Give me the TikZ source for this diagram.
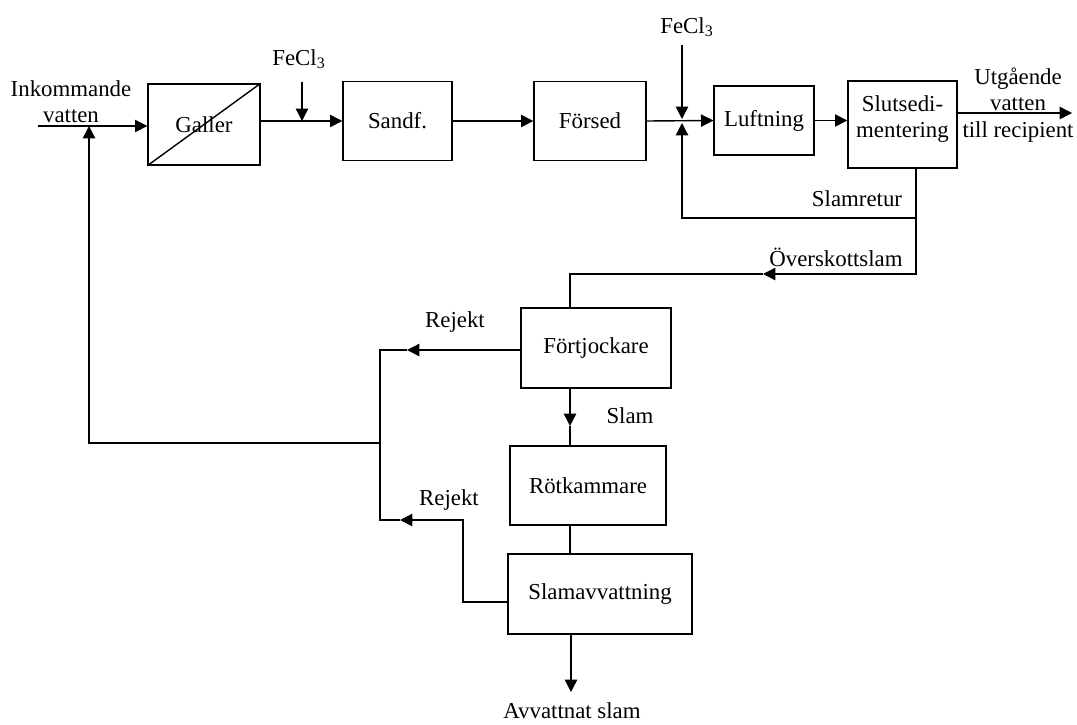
\documentclass[tikz,border=0pt]{standalone}
\usepackage{fontspec}
\setmainfont{Liberation Serif}
\usetikzlibrary{arrows.meta,positioning}

\tikzset{
  blk/.style={draw,line width=0.8pt,inner sep=2pt},
  flow/.style={line width=0.8pt,-{Triangle[length=7pt,width=7pt]}},
  pipe/.style={line width=0.8pt}
}

\begin{document}
\begin{tikzpicture}[x=0.02cm,y=-0.02cm,every node/.style={font=\fontsize{13}{15}\selectfont}]
    \useasboundingbox (0,0) rectangle (1077,724);

    % vattenlinjen
    \node[blk,minimum width=2.24cm,minimum height=1.62cm] (galler) at (204,124.5) {Galler};
    \node[blk,minimum width=2.18cm,minimum height=1.58cm] (sandf) at (397.5,121) {Sandf.};
    \node[blk,minimum width=2.24cm,minimum height=1.58cm] (forsed) at (590,121) {Försed};
    \node[blk,minimum width=2.0cm,minimum height=1.38cm] (luft) at (764,120.5) {Luftning};
    \node[blk,minimum width=2.18cm,minimum height=1.74cm] (slut) at (902.5,124.5) {};
    \node[align=center] (slutt) at (902.5,119) {Slutsedi-\\mentering};
    \draw[pipe] (galler.south west) -- (galler.north east);

    % slamlinjen
    \node[blk,minimum width=3.0cm,minimum height=1.6cm] (fort) at (596,348) {Förtjockare};
    \node[blk,minimum width=3.12cm,minimum height=1.58cm] (rot) at (588,485.5) {Rötkammare};
    \node[blk,minimum width=3.68cm,minimum height=1.6cm] (slamav) at (600,594) {Slamavvattning};

    \coordinate (in0) at (38,126);
    \coordinate (fe1) at (302,82);
    \coordinate (fe2) at (682,45);
    \coordinate (j2) at (682,121);
    \coordinate (ut) at (1072,113);
    \coordinate (sr) at (916,218);
    \coordinate (ov) at (763,274);
    \coordinate (fk) at (570,274);
    \coordinate (sl) at (570,426);
    \coordinate (rj1) at (407,350);
    \coordinate (rv) at (380,350);
    \coordinate (fb) at (380,443);
    \coordinate (fb2) at (89,443);
    \coordinate (rj2) at (400,520);
    \coordinate (rv2) at (380,520);
    \coordinate (sv) at (463,602);
    \coordinate (av) at (571,692);

    \node[align=center] (ink) at (71,102) {Inkommande\\vatten};
    \node (fecl1) at (299,59) {FeCl\textsubscript{3}};
    \node (fecl2) at (687,27) {FeCl\textsubscript{3}};
    \node[align=center] (utg) at (1018,105) {Utgående\\vatten\\till recipient};
    \node (slamret) at (857,199) {Slamretur};
    \node (overs) at (836,257) {Överskottslam};
    \node (rejekt1) at (455,322) {Rejekt};
    \node (slam) at (630,416) {Slam};
    \node (rejekt2) at (449,500) {Rejekt};
    \node (avv) at (572,711) {Avvattnat slam};

    \draw[flow] (in0) -- (galler.west |- in0);
    \draw[flow] (galler.east |- sandf) -- (sandf.west);
    \draw[flow] (fe1) -- (fe1 |- sandf);
    \draw[flow] (sandf.east) -- (forsed.west);
    \draw[flow] (forsed.east) -- (luft.west);
    \draw[flow] (fe2) -- ([yshift=0.04cm]j2);
    \draw[flow] (luft.east) -- (slut.west |- luft);
    \draw[flow] (slut.east |- ut) -- (ut);

    % returslam och överskottsslam
    \draw[flow] (slut.south -| sr) -- (sr) -- (j2 |- sr) -- ([yshift=-0.04cm]j2);
    \draw[flow] (sr) -- (sr |- ov) -- (ov);
    \draw[pipe] (ov) -- (fk) -- (fk |- fort.north);

    \draw[flow] (fort.south -| sl) -- (sl);
    \draw[pipe] (sl) -- (sl |- rot.north);
    \draw[pipe] (rot.south -| sl) -- (slamav.north -| sl);
    \draw[flow] (slamav.south -| av) -- (av);

    % rejektvatten tillbaka till inloppet
    \draw[flow] (fort.west |- rj1) -- (rj1);
    \draw[pipe] (rj1) -- (rv) -- (rv2) -- (rj2);
    \draw[flow] (slamav.west |- sv) -- (sv) -- (sv |- rj2) -- (rj2);
    \draw[flow] (fb) -- (fb2) -- (fb2 |- in0);
\end{tikzpicture}
\end{document}
